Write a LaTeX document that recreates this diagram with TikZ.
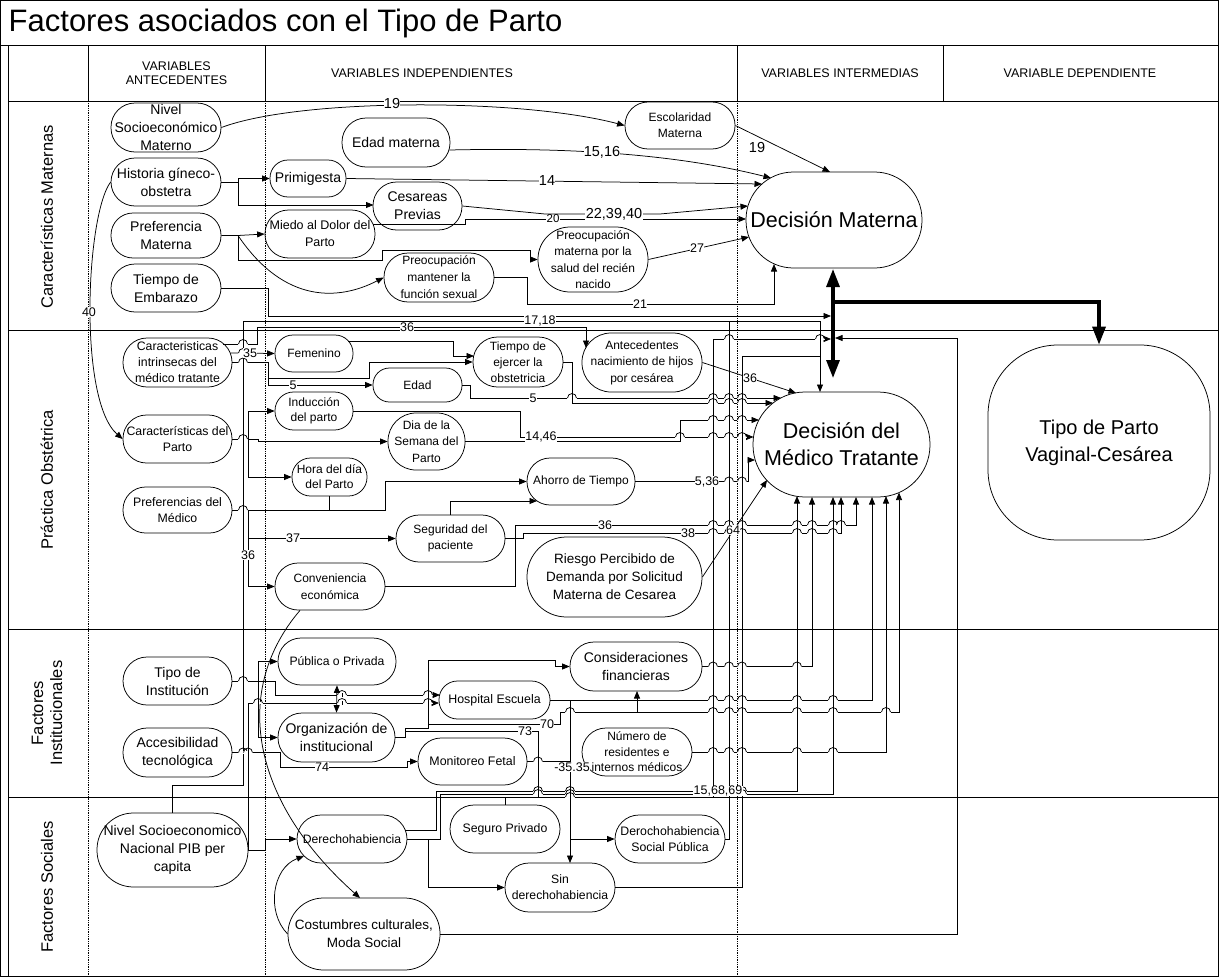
\documentclass[tikz,border=0pt]{standalone}
\usepackage{fontspec}
\setmainfont{Liberation Sans}
\usetikzlibrary{arrows.meta}
\newcommand\fsz[2]{\fontsize{#1}{#2}\selectfont}
\newcommand\hop[2]{%
  \fill[white] (#1-4.6,#2-1.3) rectangle (#1+4.6,#2+1.3);
  \draw (#1,#2-1.8) -- (#1,#2+1.8);
  \draw (#1-4.5,#2) arc[start angle=180,end angle=0,radius=4.5pt];}
\begin{document}
\begin{tikzpicture}[x=1pt,y=-1pt,line width=0.75pt,
  pill/.style={draw, rounded corners=#1, align=center, inner sep=0pt},
  arr/.style={-{Triangle[length=7.5pt,width=6pt]}},
  darr/.style={{Triangle[length=7.5pt,width=6pt]}-{Triangle[length=7.5pt,width=6pt]}},
  lab/.style={fill=white, inner sep=0.3pt, font=\fsz{12.5}{13}},
  labb/.style={fill=white, inner sep=0.3pt, font=\fsz{14.5}{15}},
  thk/.style={-{Triangle[length=18pt,width=13pt]}, line width=3.2pt},
  rowlab/.style={rotate=90, align=center, font=\fsz{16.5}{19}},
  head/.style={align=center, font=\fsz{12.5}{14}},
]
\useasboundingbox (0,0) rectangle (1219,977);
% ---------- frame and grid
\draw (0.5,0.5) rectangle (1218.5,976.5);
\draw (0,45) -- (1219,45);
\draw (8,101) -- (1219,101);
\foreach \x in {88,265,737,943} \draw (\x,45) -- (\x,101);
\draw (8,45) -- (8,977);
\foreach \x in {88,265,737} \draw[densely dotted] (\x,101) -- (\x,977);
\foreach \y in {330,629,797} \draw (8,\y) -- (1219,\y);
\node[anchor=west, font=\fsz{31}{31}] (title) at (5,23) {Factores asociados con el Tipo de Parto};
\node[head] (h1) at (176.5,73) {VARIABLES\\ANTECEDENTES};
\node[head] (h2) at (422,73) {VARIABLES INDEPENDIENTES};
\node[head] (h3) at (840,73) {VARIABLES INTERMEDIAS};
\node[head] (h4) at (1080,73) {VARIABLE DEPENDIENTE};
\node[rowlab] (r1) at (47,217) {Características Maternas};
\node[rowlab] (r2) at (47,480) {Práctica Obstétrica};
\node[rowlab] (r3) at (47,713) {Factores\\Institucionales};
\node[rowlab] (r4) at (47,887) {Factores Sociales};
% ---------- nodes row 1
\node[pill=24pt, minimum width=110pt, minimum height=49pt, font=\fsz{14}{18}] (nsm) at (166,127.5) {Nivel\\Socioeconómico\\Materno};
\node[pill=24pt, minimum width=110pt, minimum height=48pt, font=\fsz{14}{18}] (hgo) at (166,182) {Historia gíneco-\\obstetra};
\node[pill=22pt, minimum width=110pt, minimum height=45pt, font=\fsz{14}{18}] (pma) at (166,235.5) {Preferencia\\Materna};
\node[pill=24pt, minimum width=110pt, minimum height=48pt, font=\fsz{14}{18}] (tem) at (166,288) {Tiempo de\\Embarazo};
\node[pill=24pt, minimum width=108pt, minimum height=49pt, font=\fsz{14}{18}] (edm) at (396,142.5) {Edad materna};
\node[pill=18pt, minimum width=76pt, minimum height=37pt, font=\fsz{14}{18}] (pri) at (308,178.5) {Primigesta};
\node[pill=23.5pt, minimum width=89pt, minimum height=48pt, font=\fsz{14}{18}] (ces) at (417.5,206) {Cesareas\\Previas};
\node[pill=23.5pt, minimum width=110pt, minimum height=48pt, font=\fsz{12.5}{17}] (mie) at (320,234) {Miedo al Dolor del\\Parto};
\node[pill=24pt, minimum width=110pt, minimum height=49pt, font=\fsz{12}{17}] (pms) at (439,277.5) {Preocupación\\mantener la\\función sexual};
\node[pill=32pt, minimum width=110pt, minimum height=65pt, font=\fsz{12}{16.5}] (pmr) at (593,259.5) {Preocupación\\materna por la\\salud del recién\\nacido};
\node[pill=23pt, minimum width=110pt, minimum height=47pt, font=\fsz{12}{16}] (esc) at (680,125.5) {Escolaridad\\Materna};
\node[pill=47.5pt, minimum width=176pt, minimum height=96pt, font=\fsz{21.5}{27}] (dma) at (834,220) {Decisión Materna};
% ---------- nodes row 2
\node[pill=24pt, minimum width=109pt, minimum height=49pt, font=\fsz{12.3}{16}] (cim) at (177.5,362.5) {Caracteristicas\\intrinsecas del\\médico tratante};
\node[pill=23.5pt, minimum width=109pt, minimum height=48pt, font=\fsz{12.3}{16.5}] (cpa) at (177.5,439) {Características del\\Parto};
\node[pill=22.5pt, minimum width=109pt, minimum height=46pt, font=\fsz{12.3}{16.5}] (pme) at (177.5,510) {Preferencias del\\Médico};
\node[pill=18pt, minimum width=78pt, minimum height=37pt, font=\fsz{12}{16}] (fem) at (314,353.5) {Femenino};
\node[pill=18.5pt, minimum width=78pt, minimum height=38pt, font=\fsz{12}{15}] (ind) at (314,411) {Inducción\\del parto};
\node[pill=18.5pt, minimum width=75pt, minimum height=38pt, font=\fsz{12}{15}] (hor) at (329.5,477) {Hora del día\\del Parto};
\node[pill=16.5pt, minimum width=89pt, minimum height=34pt, font=\fsz{12}{16}] (eda) at (417.5,385) {Edad};
\node[pill=24.5pt, minimum width=90pt, minimum height=50pt, font=\fsz{12}{16}] (tej) at (518,362) {Tiempo de\\ejercer la\\obstetricia};
\node[pill=29pt, minimum width=120pt, minimum height=59pt, font=\fsz{12}{16.5}] (ant) at (642,362.5) {Antecedentes\\nacimiento de hijos\\por cesárea};
\node[pill=28pt, minimum width=77pt, minimum height=57pt, font=\fsz{12}{16.5}] (dia) at (426.5,441.5) {Dia de la\\Semana del\\Parto};
\node[pill=23pt, minimum width=108pt, minimum height=47pt, font=\fsz{12}{16}] (aho) at (581,481.5) {Ahorro de Tiempo};
\node[pill=23pt, minimum width=109pt, minimum height=47pt, font=\fsz{12}{16.5}] (seg) at (450.5,538.5) {Seguridad del\\paciente};
\node[pill=23pt, minimum width=110pt, minimum height=47pt, font=\fsz{12}{16.5}] (con) at (330,586.5) {Conveniencia\\económica};
\node[pill=39.5pt, minimum width=175pt, minimum height=80pt, font=\fsz{13.5}{18}] (rie) at (614.5,577) {Riesgo Percibido de\\Demanda por Solicitud\\Materna de Cesarea};
\node[pill=52pt, minimum width=177pt, minimum height=105pt, font=\fsz{21.5}{27}] (dmt) at (841.5,444.5) {Decisión del\\Médico Tratante};
% ---------- nodes row 3
\node[pill=24pt, minimum width=109pt, minimum height=48pt, font=\fsz{14}{18}] (tin) at (177.5,681) {Tipo de\\Institución};
\node[pill=24pt, minimum width=109pt, minimum height=49pt, font=\fsz{14}{18}] (acc) at (177.5,752.5) {Accesibilidad\\tecnológica};
\node[pill=23pt, minimum width=118pt, minimum height=47pt, font=\fsz{12.2}{16}] (pub) at (337,661.5) {Pública o Privada};
\node[pill=24pt, minimum width=117pt, minimum height=49pt, font=\fsz{14}{18}] (org) at (336.5,737.5) {Organización de\\institucional};
\node[pill=18.5pt, minimum width=111pt, minimum height=38pt, font=\fsz{12.4}{16}] (hes) at (494.5,700) {Hospital Escuela};
\node[pill=24pt, minimum width=132pt, minimum height=49pt, font=\fsz{14}{18}] (cfi) at (636,666.5) {Consideraciones\\financieras};
\node[pill=23pt, minimum width=109pt, minimum height=47pt, font=\fsz{12.4}{16}] (mon) at (472.5,761.5) {Monitoreo Fetal};
\node[pill=24pt, minimum width=110pt, minimum height=48pt, font=\fsz{12}{15.5}] (nre) at (637,752) {Número de\\residentes e\\internos médicos};
% ---------- nodes row 4
\node[pill=36.5pt, minimum width=151pt, minimum height=74pt, font=\fsz{14}{18}] (nsn) at (172.5,850) {Nivel Socioeconomico\\Nacional PIB per\\capita};
\node[pill=24pt, minimum width=110pt, minimum height=48pt, font=\fsz{12.2}{16}] (der) at (352,839) {Derechohabiencia};
\node[pill=24pt, minimum width=110pt, minimum height=48pt, font=\fsz{12.3}{16}] (spr) at (505,829) {Seguro Privado};
\node[pill=24pt, minimum width=110pt, minimum height=48pt, font=\fsz{12.3}{16}] (dsp) at (670,839) {Derochohabiencia\\Social Pública};
\node[pill=24pt, minimum width=110pt, minimum height=49pt, font=\fsz{12.2}{16}] (sin) at (560,887.5) {Sin\\derechohabiencia};
\node[pill=35.5pt, minimum width=152pt, minimum height=72pt, font=\fsz{13.5}{18}] (cos) at (364,934) {Costumbres culturales,\\Moda Social};
% ---------- dependent
\node[draw, rounded corners=70pt, minimum width=222pt, minimum height=195pt, align=center, inner sep=0pt, font=\fsz{20}{27}] (tpa) at (1099,442.5) {Tipo de Parto\\Vaginal-Cesárea};
% ---------- connectors row 1
\draw[arr] (nsm.east) .. controls (300,98) and (520,98) .. (esc.west);
\draw[arr] (esc.east) -- (830,172);
\draw[arr] ([shift={(-1pt,-7.5pt)}]edm.east) .. controls (540,148) and (660,150) .. (771,178);
\draw[arr] (hgo.east) -- (238,182) |- (pri.west);
\draw[arr] (238,182) |- (373.5,205);
\draw[arr] (pri.east) -- (762,184);
\draw[arr] (ces.east) -- (545,214) -- (660,214) -- (748,206);
\draw[arr] ([shift={(-2pt,10pt)}]mie.east) -- (465,224) -- (465,219) -- (746,219);
\draw[arr] (pma.east) -- (238,235.5) -- (mie.west);
\draw[arr] (238,235.5) |- (382,260) |- (530,250) |- (pmr.west);
\draw[arr] (238,235.5) .. controls (285,305) and (340,300) .. (pms.west);
\draw[arr] (pms.east) -- (527,277.5) |- (774,304) -- (774,264);
\draw[arr] (pmr.east) -- (749,237);
\draw[arr] (tem.east) -| (268,316) -- (831,316);
% ---------- long buses
\draw[arr] (nsn.north) |- (243,785) -- (243,321) -- (820,321) -- (820,392);
\draw[arr] ([shift={(-9pt,18.5pt)}]cim.east) -- (257,344) -- (257,327) -- (586,327) -- (586,348);
\draw[arr] (ant.east) -- (796,393);
% ---------- row 2
\draw[arr] ([shift={(-1.5pt,9.5pt)}]cim.east) -- (fem.west);
\draw[arr] (cim.east) -- (268,362.5) |- (369,378) |- (tej.west);
\draw[arr] (268,378) -- (268,385) -- (eda.west);
\draw[arr] ([shift={(-5pt,12.5pt)}]fem.east) -- (453,341) |- (474,356);
\draw[arr] (eda.east) -- (470,385) |- (781,398);
\draw[arr] (tej.east) -- (572,362) |- (773,403);
\draw[arr] (hgo.west) .. controls (86,215) and (78,400) .. (cpa.west);
\draw[arr] (cpa.east) -- (248,439) |- (ind.west);
\draw[arr] (248,439) |- (hor.west);
\draw[arr] (248,439) -- (258,439) |- (dia.west);
\draw[arr] (ind.east) -- (520,411) |- (753.5,437);
\draw[arr] (dia.east) -- (680,441.5) |- (759,420);
\draw (hor.south) -- (329.5,510);
\draw[arr] (pme.east) -- (385,510) |- (aho.west);
\draw[arr] (seg.north) -- (450.5,501) -- (537,501);
\draw[arr] (248,510) |- (seg.west);
\draw[arr] (248,538.5) |- (con.west);
\draw[arr] (con.east) -- (515,586.5) -- (515,525) -- (856,525) -- (856,497);
\draw[arr] (seg.east) -- (523,538.5) -- (523,533) -- (841,533) -- (841,497);
\draw[arr] (rie.east) -- (767,480);
\draw[arr] (aho.east) -- (748,481.5) |- (755,460);
% ---------- row 3
\draw[arr] (tin.east) -- (258,681) |- (pub.west);
\draw[arr] (258,681) |- (org.west);
\draw[arr] (258,681) -- (275,681) |- (440,695);
\draw[arr] (nsn.east) -- (265,850) |- (der.west);
\draw[arr] (248,850) -- (248,703) -- (439,703);
\draw[darr] (pub.south) -- (org.north);
\draw[arr] (acc.east) -- (280,752.5) |- (407,767) |- (mon.west);
\draw[arr] (org.east) -- (405,737.5) |- (428,728) |- (555,660) |- (cfi.west);
\draw (405,731) -- (538,731) -- (538,797);
\draw (428,724) -- (560,724) -- (560,712) -- (637,712);
\draw[arr] (637,712) -- (637,691);
\draw[arr] (637,712) -- (899,712) -- (899,492.5);
\draw[arr] (hes.east) -- (570,700) -- (570,863);
\draw[arr] (570,839) -- (dsp.west);
\draw[arr] (570,700) -- (872,700) -- (872,497);
\draw (mon.east) -- (570,761.5);
\draw[arr] (cfi.east) -- (812,666.5) -- (812,497);
\draw[arr] (nre.east) -- (886,752) -- (886,496);
% ---------- row 4
\draw[arr] ([shift={(-2pt,9pt)}]der.east) -- (436,830) -- (436,791) -- (797,791) -- (797,496);
\draw[arr] (der.east) -- (440,839) -- (440,794) -- (833,794) -- (833,497);
\draw[arr] (428,839) |- (sin.west);
\draw[arr] (spr.north) |- (713,797) -- (713,339) -- (831,339);
\draw (dsp.east) -- (729,839) -- (729,321);
\draw (sin.east) -- (742,887.5) -- (742,356) -- (820,356);
\draw[arr] (cos.east) -- (957,934) -- (957,338) -- (835,338);
\draw[arr] ([xshift=-30pt]con.south) .. controls (232,690) and (250,800) .. (360,898);
\draw[arr] (cos.west) .. controls (266,912) and (272,868) .. (304,856);
% ---------- line hops
\foreach \a/\b in {243/344,243/353,243/362.5,243/439,243/510,243/681,243/752.5,248/752.5,
  729/339,820/339,572/398,713/398,729/398,742/398,713/403,729/403,742/403,
  680/437,713/437,729/437,742/437,713/420,729/420,742/420,
  713/481.5,729/481.5,742/481.5,
  713/525,729/525,742/525,797/525,812/525,833/525,841/525,
  713/533,729/533,742/533,797/533,812/533,833/533,
  342/695,428/695,258/703,342/703,428/703,
  570/712,713/712,729/712,742/712,797/712,833/712,886/712,
  713/700,729/700,742/700,797/700,833/700,
  713/666.5,729/666.5,742/666.5,797/666.5,
  713/752,729/752,742/752,797/752,833/752,538/761.5,
  538/791,570/791,713/791,729/791,742/791,
  538/794,570/794,729/794,742/794,570/797}
  {\hop{\a}{\b}}
% ---------- thick relation
\draw[thk] (833,302) -- (833,269);
\draw[thk] (833,302) -- (833,378);
\draw[thk] (833,302) -- (1099,302) -- (tpa.north);
% ---------- labels
\node[labb] (l1) at (392,104) {19};
\node[font=\fsz{14.5}{15}] (l2) at (757,148) {19};
\node[labb] (l3) at (602,152) {15,16};
\node[labb] (l4) at (547,181) {14};
\node[labb] (l5) at (614,214) {22,39,40};
\node[lab, font=\fsz{11.5}{12}] (l6) at (553,219) {20};
\node[lab] (l7) at (697,248) {27};
\node[lab] (l8) at (640,304) {21};
\node[lab] (l9) at (540,321) {17,18};
\node[lab] (l10) at (407,327) {36};
\node[lab] (l11) at (750,378) {36};
\node[lab] (l12) at (250,353) {35};
\node[lab] (l13) at (293,385) {5};
\node[lab] (l14) at (533,398) {5};
\node[lab] (l15) at (541,437) {14,46};
\node[lab] (l16) at (707,481.5) {5,36};
\node[lab] (l17) at (293,538.5) {37};
\node[lab] (l18) at (248,555) {36};
\node[lab] (l19) at (605,525) {36};
\node[lab] (l20) at (688,533) {38};
\node[lab] (l21) at (733,530) {64};
\node[lab] (l22) at (322,767) {74};
\node[lab] (l23) at (525,731) {73};
\node[lab] (l24) at (547,724) {70};
\node[lab] (l25) at (572,767) {-35.35};
\node[lab] (l26) at (718,791) {15,68,69};
\node[lab] (l27) at (89,312) {40};
\end{tikzpicture}
\end{document}
